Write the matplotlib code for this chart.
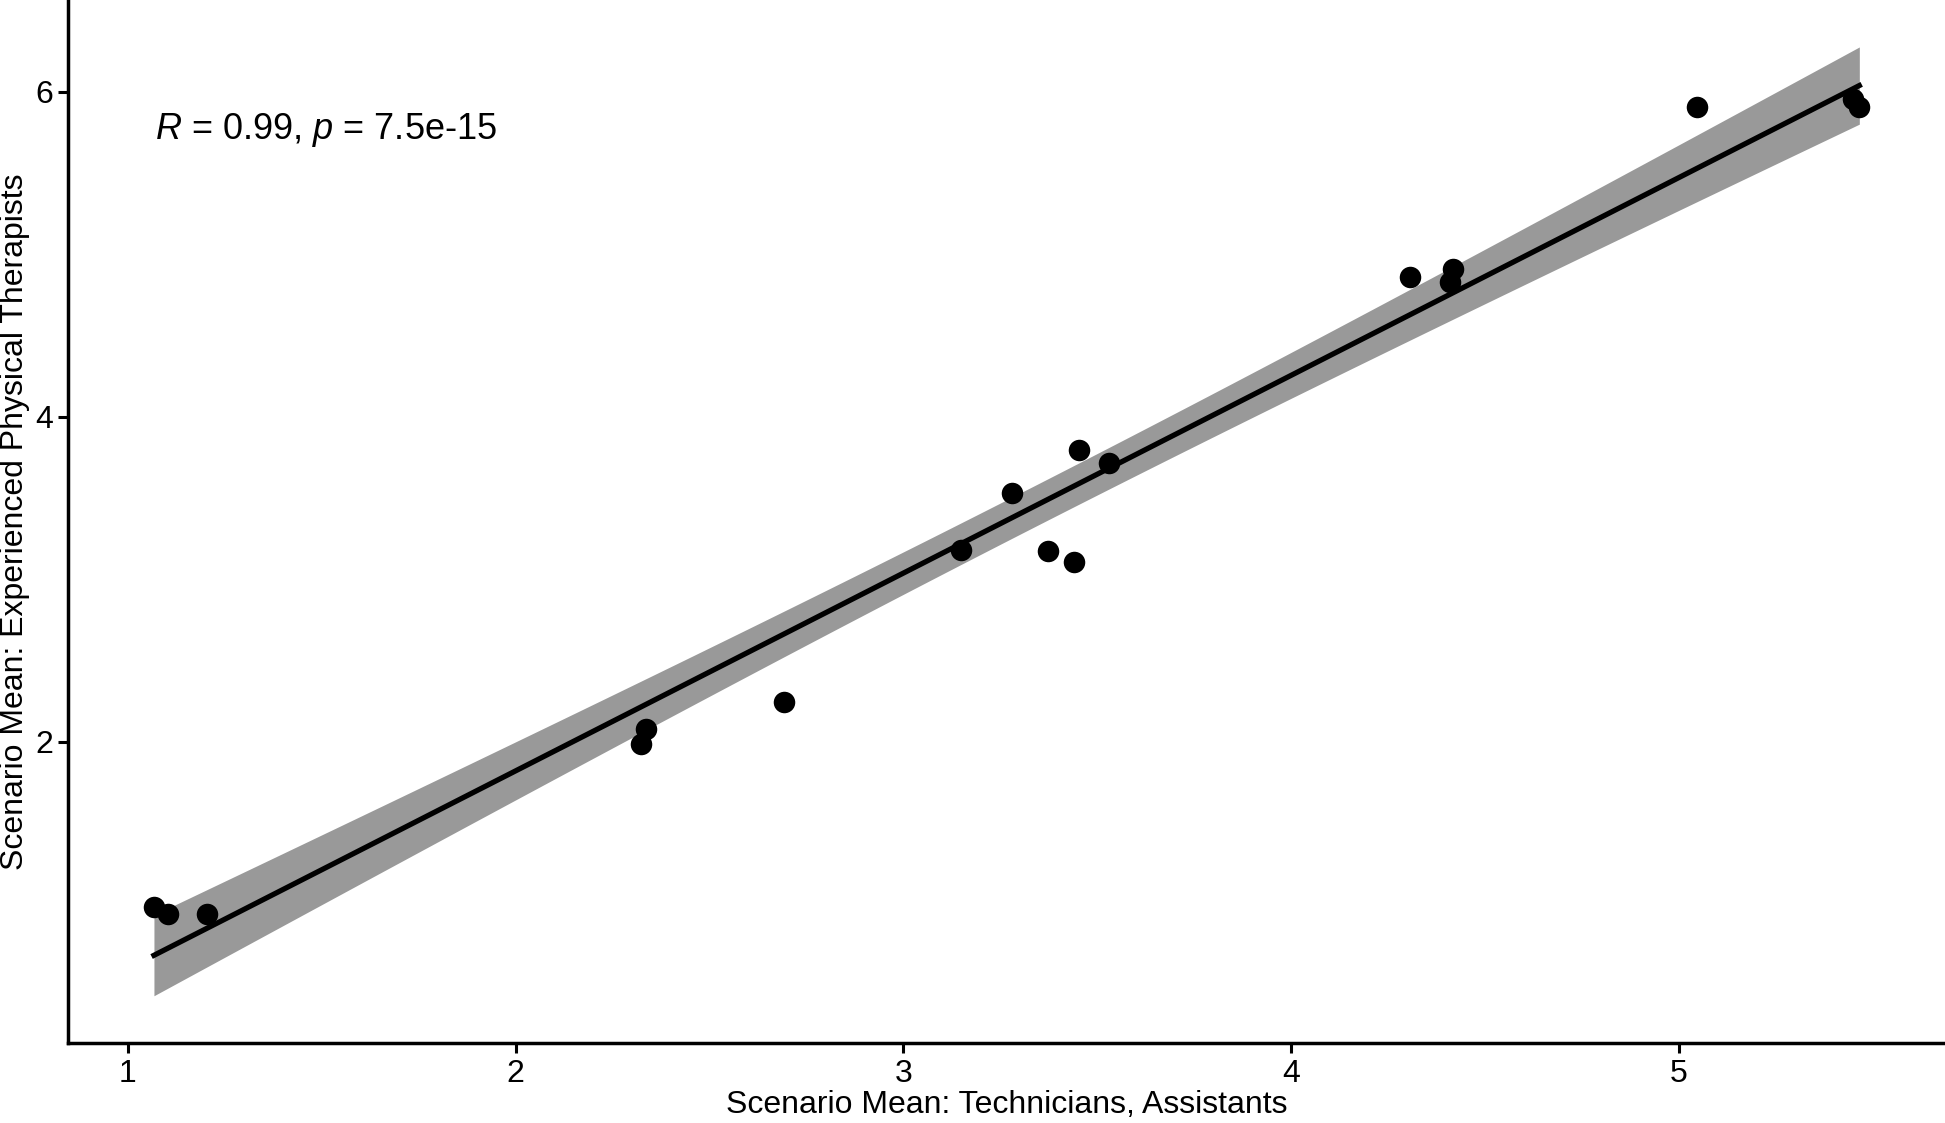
import numpy as np
import matplotlib
matplotlib.use("Agg")
import matplotlib.pyplot as plt

# scenario means
tech_means = [1.067, 1.102, 1.205, 2.324, 2.337, 2.692, 3.150, 3.281, 3.374,
              3.441, 3.454, 3.530, 4.308, 4.410, 4.417, 5.047, 5.450, 5.466]
pt_means = [0.985, 0.939, 0.939, 1.985, 2.076, 2.244, 3.183, 3.534, 3.176,
            3.107, 3.794, 3.718, 4.863, 4.832, 4.908, 5.908, 5.954, 5.908]
x_ticks = [1, 2, 3, 4, 5]
y_ticks = [2, 4, 6]
stat_label = r"$\mathit{R}$ = 0.99, $\mathit{p}$ = 7.5e-15"

plt.rcParams['font.family'] = ['Liberation Sans', 'DejaVu Sans']
plt.rcParams['mathtext.fontset'] = 'custom'
plt.rcParams['mathtext.rm'] = 'Liberation Sans'
plt.rcParams['mathtext.it'] = 'Liberation Sans:italic'

x = np.array(tech_means)
y = np.array(pt_means)

# linear fit with 95% confidence band (like geom_smooth(method="lm"))
n = len(x)
slope, intercept = np.polyfit(x, y, 1)
resid = y - (slope * x + intercept)
s_err = np.sqrt(np.sum(resid ** 2) / (n - 2))
t_crit = 2.12  # t(0.975, df=16)
xs = np.linspace(x.min(), x.max(), 200)
ys = slope * xs + intercept
se_fit = s_err * np.sqrt(1.0 / n + (xs - x.mean()) ** 2 / np.sum((x - x.mean()) ** 2))

fig = plt.figure(figsize=(19.45, 11.23), dpi=100)
ax = fig.add_axes([0.0351, 0.071, 0.9649, 0.929])

ax.fill_between(xs, ys - t_crit * se_fit, ys + t_crit * se_fit,
                color='#999999', linewidth=0, zorder=1)
ax.plot(xs, ys, color='black', linewidth=3.8, zorder=2)
ax.scatter(x, y, s=240, color='black', linewidths=0, zorder=3)

ax.text(1.07, 5.71, stat_label, fontsize=26, ha='left', va='baseline')

ax.set_xlim(0.846, 5.687)
ax.set_ylim(0.145, 6.565)
ax.set_xticks(x_ticks)
ax.set_yticks(y_ticks)
ax.tick_params(labelsize=23, length=7, width=2.2, color='black',
               labelcolor='black', pad=4)

for side in ['top', 'right']:
    ax.spines[side].set_visible(False)
for side in ['left', 'bottom']:
    ax.spines[side].set_linewidth(2.5)

ax.set_xlabel("Scenario Mean: Technicians, Assistants", fontsize=23, labelpad=1)
ax.set_ylabel("Scenario Mean: Experienced Physical Therapists", fontsize=23, labelpad=4)

fig.savefig("out.png", dpi=100)
